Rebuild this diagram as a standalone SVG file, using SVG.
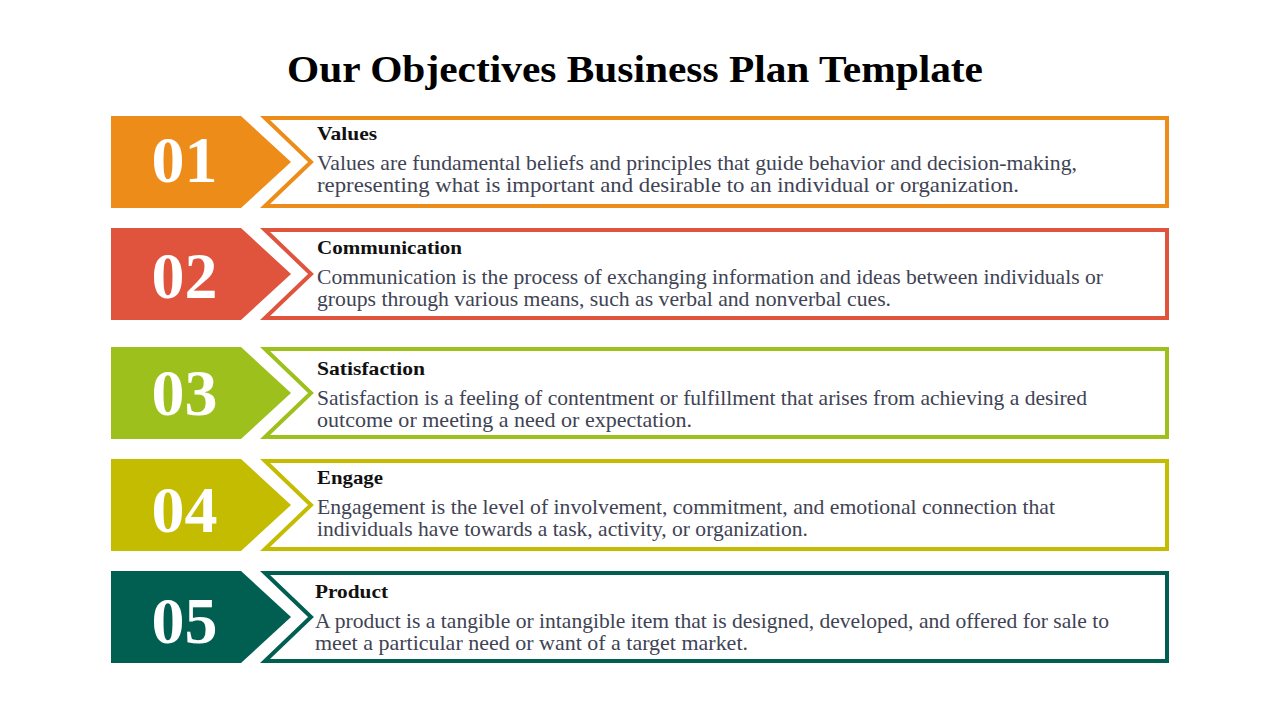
<svg xmlns="http://www.w3.org/2000/svg" width="1280" height="720" viewBox="0 0 1280 720">
  <style>
    .title { font-family: "Liberation Serif", "Times New Roman", serif; font-weight: bold; font-size: 38px; fill: #000000; }
    .num { font-family: "Liberation Serif", "Times New Roman", serif; font-weight: bold; font-size: 66px; fill: #ffffff; text-anchor: middle; }
    .head { font-family: "Liberation Serif", "Times New Roman", serif; font-weight: bold; font-size: 19px; fill: #111111; }
    .body { font-family: "Liberation Serif", "Times New Roman", serif; font-size: 21px; fill: #404354; }
    .frame { fill: #ffffff; stroke-width: 4; stroke-linejoin: miter; }
  </style>
  <rect width="1280" height="720" fill="#ffffff"/>
  <text class="title" x="287" y="82" textLength="696" lengthAdjust="spacingAndGlyphs">Our Objectives Business Plan Template</text>

  <g id="item-01">
    <path d="M111,116 H241 L291,162 L241,208 H111 Z" fill="#EE8C1A"/>
    <path class="frame" stroke="#EE8C1A" d="M265,118 H1167 V206 H265 L311,162 Z"/>
    <text class="num" x="184.5" y="182">01</text>
    <text class="head" x="317" y="140" textLength="60" lengthAdjust="spacingAndGlyphs">Values</text>
    <text class="body" x="317" y="170" textLength="760" lengthAdjust="spacingAndGlyphs">Values are fundamental beliefs and principles that guide behavior and decision-making,</text>
    <text class="body" x="317" y="192" textLength="702" lengthAdjust="spacingAndGlyphs">representing what is important and desirable to an individual or organization.</text>
  </g>

  <g id="item-02">
    <path d="M111,228 H241 L291,274 L241,320 H111 Z" fill="#E0533D"/>
    <path class="frame" stroke="#E0533D" d="M265,230 H1167 V318 H265 L311,274 Z"/>
    <text class="num" x="184.5" y="298">02</text>
    <text class="head" x="317" y="254" textLength="145" lengthAdjust="spacingAndGlyphs">Communication</text>
    <text class="body" x="317" y="284" textLength="786" lengthAdjust="spacingAndGlyphs">Communication is the process of exchanging information and ideas between individuals or</text>
    <text class="body" x="317" y="306" textLength="574" lengthAdjust="spacingAndGlyphs">groups through various means, such as verbal and nonverbal cues.</text>
  </g>

  <g id="item-03">
    <path d="M111,347 H241 L291,393 L241,439 H111 Z" fill="#9DC01C"/>
    <path class="frame" stroke="#9DC01C" d="M265,349 H1167 V437 H265 L311,393 Z"/>
    <text class="num" x="184.5" y="415">03</text>
    <text class="head" x="317" y="375" textLength="108" lengthAdjust="spacingAndGlyphs">Satisfaction</text>
    <text class="body" x="317" y="405" textLength="770" lengthAdjust="spacingAndGlyphs">Satisfaction is a feeling of contentment or fulfillment that arises from achieving a desired</text>
    <text class="body" x="317" y="427" textLength="375" lengthAdjust="spacingAndGlyphs">outcome or meeting a need or expectation.</text>
  </g>

  <g id="item-04">
    <path d="M111,459 H241 L291,505 L241,551 H111 Z" fill="#C3BC00"/>
    <path class="frame" stroke="#C3BC00" d="M265,461 H1167 V549 H265 L311,505 Z"/>
    <text class="num" x="184.5" y="532">04</text>
    <text class="head" x="317" y="484" textLength="66" lengthAdjust="spacingAndGlyphs">Engage</text>
    <text class="body" x="317" y="514" textLength="738" lengthAdjust="spacingAndGlyphs">Engagement is the level of involvement, commitment, and emotional connection that</text>
    <text class="body" x="317" y="536" textLength="491" lengthAdjust="spacingAndGlyphs">individuals have towards a task, activity, or organization.</text>
  </g>

  <g id="item-05">
    <path d="M111,571 H241 L291,617 L241,663 H111 Z" fill="#005F51"/>
    <path class="frame" stroke="#005F51" d="M265,573 H1167 V661 H265 L311,617 Z"/>
    <text class="num" x="184.5" y="643">05</text>
    <text class="head" x="315" y="598" textLength="73" lengthAdjust="spacingAndGlyphs">Product</text>
    <text class="body" x="315" y="628" textLength="794" lengthAdjust="spacingAndGlyphs">A product is a tangible or intangible item that is designed, developed, and offered for sale to</text>
    <text class="body" x="315" y="650" textLength="433" lengthAdjust="spacingAndGlyphs">meet a particular need or want of a target market.</text>
  </g>

  <g id="connectors"></g>
</svg>
